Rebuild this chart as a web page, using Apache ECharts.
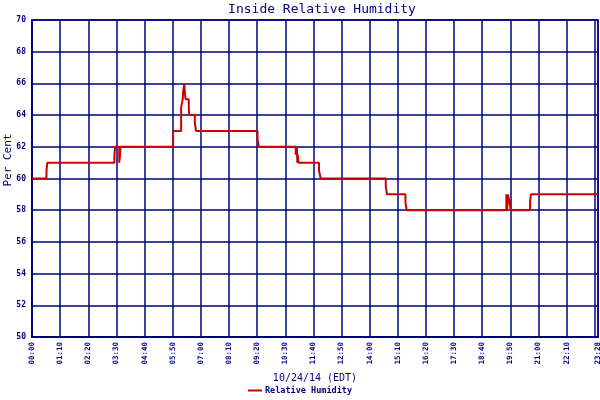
<!DOCTYPE html>
<html><head><meta charset="utf-8">
<script src="https://cdn.jsdelivr.net/npm/echarts@6/dist/echarts.min.js"></script>
<style>html,body{margin:0;padding:0;background:#fff}#c{width:600px;height:400px}</style>
</head><body><div id="c"></div>
<script>
// time in minutes since 00:00 on 10/24/14, value = relative humidity (%) from that time on
const times = [0,36,38,205,207,217,219,220,351,371,375,376,379,380,382,390,391,405,408,561,564,656,657,658,659,660,661,663,714,718,880,883,929,932,1180,1182,1184,1188,1191,1239,1241,1408];
const humidity = [60,60.5,61,61.5,62,61,61.5,62,63,64.5,65,65.5,66,65.5,65,64.5,64,63.5,63,62.5,62,61.5,62,61.5,62,61,61.5,61,60.5,60,59.5,59,58.5,58,59,58,59,58.5,58,58.5,59,59];
const yTicks = [50,52,54,56,58,60,62,64,66,68,70];
const xMax = 1408;

const navy = '#000080';
const mono = 'DejaVu Sans Mono';
function hhmm(v){const h=Math.floor(v/60),m=Math.round(v%60);return String(h).padStart(2,'0')+':'+String(m).padStart(2,'0');}
const chart = echarts.init(document.getElementById('c'));
chart.setOption({
  animation:false,
  backgroundColor:'#fff',
  title:{text:'Inside Relative Humidity',left:317,textAlign:'center',top:-2,textStyle:{fontFamily:mono,fontSize:13,fontWeight:'normal',color:navy}},
  graphic:[{type:'text',x:8,y:160,rotation:Math.PI/2,
    style:{text:'Per Cent',fontFamily:mono,fontSize:11,fill:navy,textAlign:'center',textVerticalAlign:'middle'}}],
  grid:{left:32,right:2,top:20,bottom:63,show:true,borderColor:navy,borderWidth:1.5,containLabel:false,outerBoundsMode:'none'},
  legend:{bottom:0,left:'center',itemWidth:14,itemHeight:2,icon:'rect',itemGap:4,
    textStyle:{fontFamily:mono,fontSize:8.5,fontWeight:'bold',color:navy,padding:[0,0,0,-2]},data:['Relative Humidity']},
  xAxis:{type:'value',min:0,max:xMax,interval:70,
    name:'10/24/14 (EDT)',nameLocation:'middle',nameGap:36,nameTextStyle:{fontFamily:mono,fontSize:10,color:navy},
    axisLine:{lineStyle:{color:navy,width:2}},axisTick:{show:false},
    axisLabel:{rotate:90,fontFamily:mono,fontSize:7.5,fontWeight:'bold',color:navy,margin:5,formatter:hhmm,showMaxLabel:true},
    splitLine:{show:true,lineStyle:{color:navy,width:1.5}}},
  yAxis:{type:'value',min:yTicks[0],max:yTicks[yTicks.length-1],interval:2,
    axisLine:{show:true,lineStyle:{color:navy,width:2}},axisTick:{show:false},
    axisLabel:{fontFamily:mono,fontSize:8,fontWeight:'bold',color:navy,margin:6},
    splitLine:{show:true,lineStyle:{color:navy,width:1.5}}},
  series:[{name:'Relative Humidity',type:'line',step:'end',showSymbol:false,
    data:times.map((t,i)=>[t,humidity[i]]),
    lineStyle:{color:'#cc0000',width:2},itemStyle:{color:'#cc0000'}}]
});
</script></body></html>
